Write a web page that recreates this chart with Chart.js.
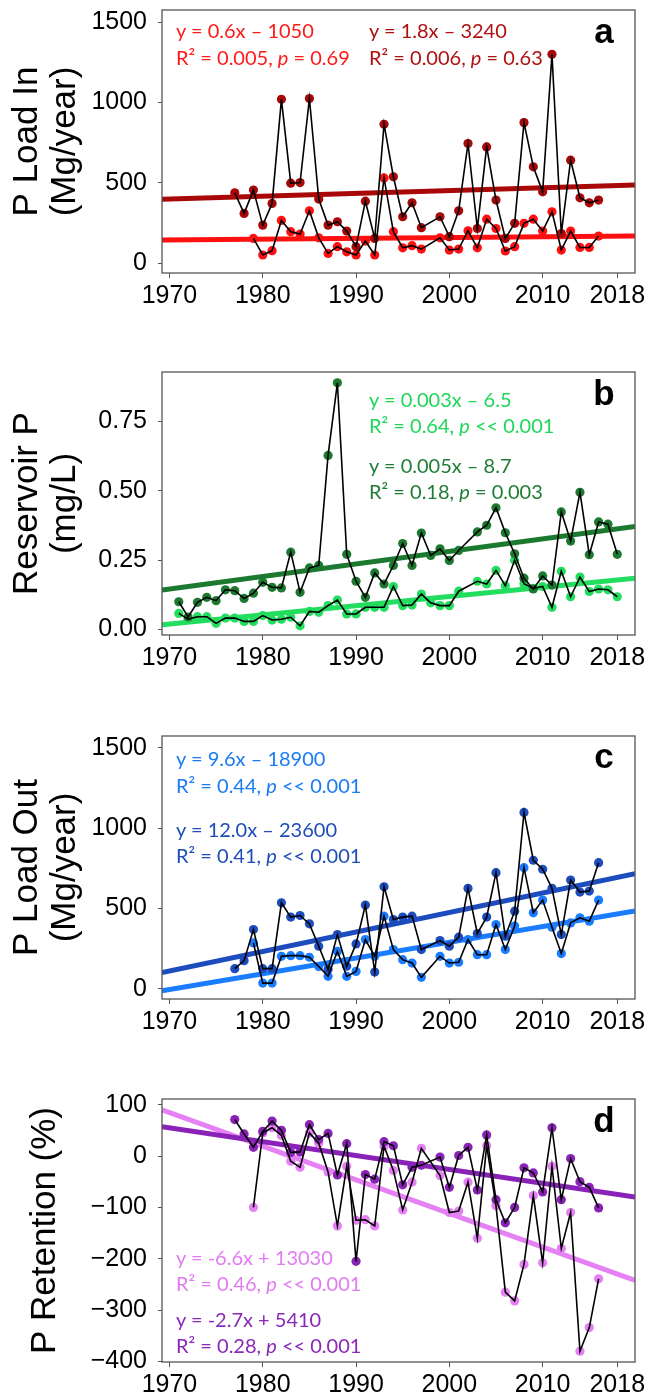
<!DOCTYPE html>
<html>
<head>
<meta charset="utf-8">
<title>P load in, reservoir P, P load out and P retention</title>
<script src="https://cdn.jsdelivr.net/npm/chart.js@4.4.1/dist/chart.umd.min.js"></script>
<style>
  html, body { margin: 0; padding: 0; background: #fff; overflow: hidden; }
  #page { position: relative; width: 648px; height: 1397px; }
  canvas { position: absolute; left: 0; }
  .note { position: absolute; font: 20px Lato, 'Open Sans', sans-serif; line-height: 20px; white-space: nowrap; }
  .tag { position: absolute; left: 584px; width: 40px; text-align: center; font: bold 35px 'Liberation Sans', Arial, sans-serif; line-height: 35px; }
</style>
</head>
<body>
<div id="page">
  <canvas id="panelA" width="648" height="320" style="top:0px"></canvas>
  <canvas id="panelB" width="648" height="320" style="top:362px"></canvas>
  <canvas id="panelC" width="648" height="320" style="top:726px"></canvas>
  <canvas id="panelD" width="648" height="320" style="top:1089px"></canvas>

  <div class="note" style="left:176px;top:20px;color:#ff1a1a">y = 0.6x – 1050</div>
  <div class="note" style="left:176px;top:47px;color:#ff1a1a">R² = 0.005, <i>p</i> = 0.69</div>
  <div class="note" style="left:369px;top:20px;color:#b01010">y = 1.8x – 3240</div>
  <div class="note" style="left:369px;top:47px;color:#b01010">R² = 0.006, <i>p</i> = 0.63</div>
  <div class="tag" style="top:13px">a</div>

  <div class="note" style="left:369px;top:389px;color:#1fd65a">y = 0.003x – 6.5</div>
  <div class="note" style="left:369px;top:415px;color:#1fd65a">R² = 0.64, <i>p</i> &lt;&lt; 0.001</div>
  <div class="note" style="left:369px;top:455px;color:#1f7d35">y = 0.005x – 8.7</div>
  <div class="note" style="left:369px;top:481px;color:#1f7d35">R² = 0.18, <i>p</i> = 0.003</div>
  <div class="tag" style="top:375px">b</div>

  <div class="note" style="left:176px;top:748px;color:#1a7cf5">y = 9.6x – 18900</div>
  <div class="note" style="left:176px;top:775px;color:#1a7cf5">R² = 0.44, <i>p</i> &lt;&lt; 0.001</div>
  <div class="note" style="left:176px;top:819px;color:#1f4db8">y = 12.0x – 23600</div>
  <div class="note" style="left:176px;top:845px;color:#1f4db8">R² = 0.41, <i>p</i> &lt;&lt; 0.001</div>
  <div class="tag" style="top:738px">c</div>

  <div class="note" style="left:176px;top:1247px;color:#e07cf0">y = -6.6x + 13030</div>
  <div class="note" style="left:176px;top:1273px;color:#e07cf0">R² = 0.46, <i>p</i> &lt;&lt; 0.001</div>
  <div class="note" style="left:176px;top:1309px;color:#8a28b8">y = -2.7x + 5410</div>
  <div class="note" style="left:176px;top:1335px;color:#8a28b8">R² = 0.28, <i>p</i> &lt;&lt; 0.001</div>
  <div class="tag" style="top:1102px">d</div>
</div>
<script>
const xTicks = [1970, 1980, 1990, 2000, 2010, 2018];
const trendYears = [1969.2, 2019.9];

const years7716 = [1977, 1978, 1979, 1980, 1981, 1982, 1983, 1984, 1985, 1986,
                   1987, 1988, 1989, 1990, 1991, 1992, 1993, 1994, 1995, 1996,
                   1997, 1998, 1999, 2000, 2001, 2002, 2003, 2004, 2005, 2006,
                   2007, 2008, 2009, 2010, 2011, 2012, 2013, 2014, 2015, 2016];
const years7118 = [1971, 1972, 1973, 1974, 1975, 1976, 1977, 1978, 1979, 1980,
                   1981, 1982, 1983, 1984, 1985, 1986, 1987, 1988, 1989, 1990,
                   1991, 1992, 1993, 1994, 1995, 1996, 1997, 1998, 1999, 2000,
                   2001, 2002, 2003, 2004, 2005, 2006, 2007, 2008, 2009, 2010,
                   2011, 2012, 2013, 2014, 2015, 2016, 2017, 2018];

// a: P load in (Mg/year)
const loadInDark = [437, 309, 454, 236, 371, 1019, 497, 501, 1024, 398,
                    236, 257, 199, 102, 385, 153, 864, 537, 288, 375,
                    220, null, 288, 164, 325, 744, 215, 723, 392, 153,
                    247, 874, 599, 443, 1299, 184, 640, 406, 375, 392];
const loadInLight = [null, null, 153, 50, 77, 265, 195, 180, 325, 157,
                     60, 102, 70, 50, 137, 50, 530, 195, 95, 108,
                     87, null, 157, 81, 87, 201, 95, 273, 215, 75,
                     102, 247, 273, 199, 319, 81, 199, 97, 97, 168];
const loadInTrendDark = [397, 485];
const loadInTrendLight = [143, 168];
const loadTicks = [0, 500, 1000, 1500];

// b: reservoir P (mg/L)
const resDark = [0.100, 0.045, 0.098, 0.116, 0.104, 0.143, 0.140, 0.112, 0.131, 0.170,
                 0.152, 0.150, 0.279, 0.134, 0.222, 0.231, 0.628, 0.890, 0.271, 0.174,
                 0.116, 0.204, 0.164, 0.231, 0.310, 0.231, 0.348, 0.267, 0.291, 0.249,
                 0.285, null, 0.352, 0.376, 0.439, 0.349, 0.273, 0.185, 0.146, 0.193,
                 0.160, 0.424, 0.319, 0.495, 0.270, 0.388, 0.380, 0.271];
const resLight = [0.058, 0.037, 0.046, 0.046, 0.022, 0.041, 0.041, 0.029, 0.029, 0.050,
                  0.034, 0.037, 0.044, 0.013, 0.065, 0.062, 0.086, 0.106, 0.056, 0.056,
                  0.080, 0.080, 0.080, 0.155, 0.086, 0.088, 0.128, 0.096, 0.086, 0.086,
                  0.138, null, 0.174, 0.164, 0.213, 0.158, 0.250, 0.165, 0.148, 0.155,
                  0.080, 0.210, 0.118, 0.189, 0.137, 0.146, 0.143, 0.118];
const resTrendDark = [0.142, 0.372];
const resTrendLight = [0.017, 0.185];
const resTicks = [0, 0.25, 0.5, 0.75];

// c: P load out (Mg/year)
const loadOutDark = [125, 175, 369, 125, 125, 535, 446, 456, 404, 265,
                     120, 337, 140, 279, 521, 104, 635, 431, 446, 452,
                     244, null, 300, 265, 321, 625, 344, 446, 723, 327,
                     483, 1098, 800, 744, 625, 337, 677, 602, 608, 785];
const loadOutLight = [null, null, 285, 35, 35, 202, 206, 206, 196, 138,
                      77, 233, 77, 108, 306, 202, 452, 244, 181, 160,
                      71, null, 202, 160, 165, 306, 212, 212, 400, 244,
                      390, 754, 473, 552, 383, 219, 410, 442, 421, 552];
const loadOutTrendDark = [100, 716];
const loadOutTrendLight = [-13, 484];

// d: P retention (%)
const retDark = [71, 43, 17, 48, 68, 50, 7, 8, 61, 32,
                 44, -37, 24, -205, -36, -45, 28, 20, -56, -22,
                 -18, null, -2, -61, 1, 17, -66, 41, -85, -130,
                 -100, -23, -33, -70, 55, -85, -5, -50, -61, -101];
const retLight = [null, null, -100, 45, 55, 40, -10, -22, 45, 25,
                  -31, -136, -20, -125, -124, -136, 19, -28, -105, -51,
                  15, null, -38, -110, -107, -51, -160, 20, -97, -265,
                  -282, -211, -77, -208, -20, -180, -110, -380, -334, -239];
const retTrendDark = [57, -80];
const retTrendLight = [90, -242];
const retTicks = [-400, -300, -200, -100, 0, 100];

const FONT = "'Liberation Sans', Arial, Helvetica, sans-serif";

// grey box round the plotting area
const framePlugin = {
  id: 'frame',
  afterDatasetsDraw(chart) {
    const { ctx, chartArea: a } = chart;
    ctx.save();
    ctx.strokeStyle = '#555';
    ctx.lineWidth = 1.3;
    ctx.strokeRect(a.left, a.top, a.right - a.left, a.bottom - a.top);
    ctx.restore();
  }
};

const xy = (xs, ys) => xs.map((x, i) => ({ x, y: ys[i] }));
const minus = v => (v < 0 ? '\u2212' + Math.abs(v) : String(v));

function drawPanel(p) {
  const ctx = document.getElementById(p.id).getContext('2d');
  const link = ys => ({ data: xy(p.years, ys), showLine: true, spanGaps: true, borderColor: '#000',
                        borderWidth: 1.6, pointRadius: 0, order: 1 });
  const dots = (ys, c) => ({ data: xy(p.years, ys), showLine: false, pointRadius: 4.6,
                             pointBackgroundColor: c, pointBorderWidth: 0, order: 2 });
  const trend = (ys, c) => ({ data: xy(trendYears, ys), showLine: true, borderColor: c,
                              borderWidth: 5, pointRadius: 0, clip: 0, order: 3 });

  return new Chart(ctx, {
    type: 'scatter',
    data: {
      datasets: [
        link(p.dark), link(p.light),
        dots(p.dark, p.darkColor), dots(p.light, p.lightColor),
        trend(p.darkTrend, p.darkColor), trend(p.lightTrend, p.lightColor)
      ]
    },
    options: {
      responsive: false,
      animation: false,
      devicePixelRatio: 1,
      layout: { padding: { top: 10, right: 13, bottom: 0, left: 0 } },
      plugins: { legend: { display: false }, tooltip: { enabled: false } },
      scales: {
        x: {
          type: 'linear', min: trendYears[0], max: trendYears[1],
          afterBuildTicks: s => { s.ticks = xTicks.map(v => ({ value: v })); },
          afterFit: s => { s.height = 47; s.paddingLeft = 0; s.paddingRight = 0; },
          grid: { drawOnChartArea: false, tickLength: 5, color: '#555' },
          border: { display: false },
          ticks: { autoSkip: false, maxRotation: 0, padding: 3, color: '#000',
                   font: { family: FONT, size: 25 }, callback: v => String(v) }
        },
        y: {
          type: 'linear', min: p.yMin, max: p.yMax,
          afterBuildTicks: s => { s.ticks = p.yTicks.map(v => ({ value: v })); },
          afterFit: s => { s.width = 162; s.paddingTop = 0; s.paddingBottom = 0; },
          grid: { drawOnChartArea: false, tickLength: 4, color: '#555' },
          border: { display: false },
          ticks: { autoSkip: false, padding: 11, color: '#000',
                   font: { family: FONT, size: 25 }, callback: p.fmt },
          title: { display: true, text: p.title, color: '#000',
                   font: { family: FONT, size: 35, lineHeight: 1.1 },
                   padding: { top: p.titlePad, bottom: 0 } }
        }
      }
    },
    plugins: [framePlugin]
  });
}

document.addEventListener('DOMContentLoaded', () => {
  drawPanel({
    id: 'panelA', years: years7716, dark: loadInDark, light: loadInLight,
    darkTrend: loadInTrendDark, lightTrend: loadInTrendLight,
    darkColor: '#a80808', lightColor: '#ff1010',
    yMin: -62, yMax: 1575, yTicks: loadTicks, fmt: v => String(v),
    title: ['P Load In', '(Mg/year)'], titlePad: 8
  });
  drawPanel({
    id: 'panelB', years: years7118, dark: resDark, light: resLight,
    darkTrend: resTrendDark, lightTrend: resTrendLight,
    darkColor: '#1b7a30', lightColor: '#22dd5e',
    yMin: -0.02, yMax: 0.929, yTicks: resTicks, fmt: v => v.toFixed(2),
    title: ['Reservoir P', '(mg/L)'], titlePad: 8
  });
  drawPanel({
    id: 'panelC', years: years7716, dark: loadOutDark, light: loadOutLight,
    darkTrend: loadOutTrendDark, lightTrend: loadOutTrendLight,
    darkColor: '#1c4cbd', lightColor: '#1a7cff',
    yMin: -64, yMax: 1574, yTicks: loadTicks, fmt: v => String(v),
    title: ['P Load Out', '(Mg/year)'], titlePad: 8
  });
  drawPanel({
    id: 'panelD', years: years7716, dark: retDark, light: retLight,
    darkTrend: retTrendDark, lightTrend: retTrendLight,
    darkColor: '#8a22b8', lightColor: '#e680f5',
    yMin: -401, yMax: 111, yTicks: retTicks, fmt: minus,
    title: 'P Retention (%)', titlePad: 26
  });
});
</script>
</body>
</html>
